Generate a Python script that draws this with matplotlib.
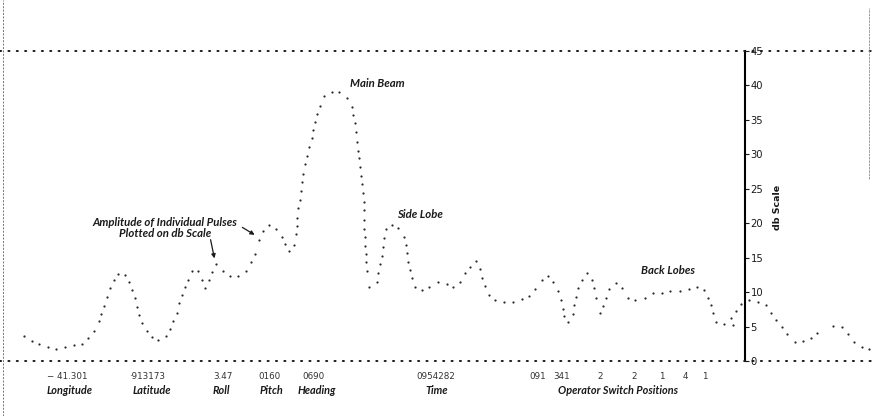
import numpy as np
import matplotlib.pyplot as plt

# trace position (along the record) and pulse amplitude in db
trace_x = [24, 32, 39, 48, 56, 65, 74, 82, 88, 94, 99, 101, 104, 107, 110, 114,
           118, 125, 129, 132, 135, 137, 139, 142, 147, 152, 158, 166, 170, 173,
           177, 179, 182, 185, 188, 192, 198, 202, 205, 209, 212, 216, 223, 230,
           238, 246, 251, 255, 259, 263, 269, 276, 282, 285, 289, 294, 295.5,
           296.5, 297.3, 298, 300, 301, 302, 303, 305, 307, 309, 312, 313, 315,
           317, 320, 324, 332, 339, 347, 352, 353, 355, 356, 357, 358, 359, 360,
           361, 362, 363, 363.5, 364, 364.2, 364.4, 364.6, 365, 365.7, 366, 367,
           369, 377, 378, 380, 382, 383, 384, 386, 392, 398, 404, 406, 407, 408,
           410, 412, 415, 422, 429, 438, 447, 453, 460, 465, 470, 476, 480, 482,
           485, 489, 495, 504, 513, 522, 529, 535, 542, 548, 553, 558, 561, 563,
           564, 568, 573, 574, 576, 578, 582, 587, 592, 594, 596, 600, 603, 606,
           609, 616, 622, 628, 635, 645, 653, 662, 670, 680, 689, 697, 704, 708,
           711, 713, 716, 724, 731, 733, 736, 741, 749, 758, 766, 771, 776, 782,
           787, 795, 803, 811, 817, 833, 842, 848, 854, 862, 869]
trace_db = [3.6, 2.9, 2.4, 2.1, 1.8, 2.1, 2.3, 2.5, 3.4, 4.4, 5.8, 6.8, 8.0, 9.3,
            10.6, 11.8, 12.6, 12.5, 11.4, 10.3, 9.1, 7.8, 6.7, 5.5, 4.4, 3.5, 3.1,
            3.7, 4.7, 5.8, 7.0, 8.4, 9.6, 10.7, 11.8, 13.0, 13.0, 11.8, 10.6, 11.8,
            12.9, 14.1, 13.0, 12.3, 12.3, 13.1, 14.3, 15.6, 17.5, 18.8, 19.8, 19.1,
            18.0, 17.0, 15.9, 16.8, 18.4, 19.6, 20.8, 22.2, 23.4, 24.6, 26.0, 27.2,
            28.6, 29.8, 31.1, 32.3, 33.5, 34.7, 35.9, 37.0, 38.4, 39.1, 39.0, 38.1,
            36.8, 35.7, 34.5, 33.3, 31.8, 30.5, 29.4, 28.2, 26.9, 25.7, 24.4, 23.1,
            21.9, 20.5, 19.2, 18.0, 16.7, 15.5, 14.3, 13.1, 10.7, 11.5, 12.8, 14.1,
            15.2, 16.6, 17.9, 19.1, 19.7, 19.3, 18.0, 16.8, 15.7, 14.4, 13.2, 12.0,
            10.7, 10.3, 10.8, 11.4, 11.2, 10.8, 11.5, 12.7, 13.6, 14.5, 13.3, 12.1,
            10.9, 9.6, 8.8, 8.5, 8.6, 9.0, 9.4, 10.4, 11.7, 12.3, 11.5, 10.1, 8.9,
            7.6, 6.5, 5.6, 6.8, 8.1, 9.3, 10.6, 11.8, 12.7, 11.8, 10.6, 9.2, 6.9,
            8.0, 9.1, 10.4, 11.3, 10.6, 9.2, 8.9, 9.2, 9.8, 9.9, 10.1, 10.2, 10.4,
            10.8, 10.3, 9.2, 8.1, 6.9, 5.7, 5.3, 6.3, 5.2, 7.3, 8.3, 8.9, 8.6, 8.1,
            7.0, 6.0, 5.0, 3.9, 2.8, 2.9, 3.4, 4.1, 5.1, 4.9, 3.9, 2.8, 2.1, 1.7]

db_ticks = [0, 5, 10, 15, 20, 25, 30, 35, 40, 45]

readout_values = ['\u2212 41.301', '\u00b7913173', '3.47', '0160', '0690', '0954282']
readout_names = ['Longitude', 'Latitude', 'Roll', 'Pitch', 'Heading', 'Time']
switch_values = ['091', '341', '2', '2', '1', '4', '1']

# label layout along the trace (same units as trace_x)
value_x = [67, 147, 223, 269, 313, 436]
name_x = [70, 152, 221, 271, 317, 437]
switch_x = [538, 562, 600, 634, 662, 685, 705]

ink = '#1a1a1a'
label_font = dict(family='Lato', weight='bold', style='italic', size=8.2, color=ink)
name_font = dict(family='Lato', weight='bold', style='italic', size=7.8, color=ink)
value_font = dict(family='DejaVu Sans', size=6.3, color='#333333')

fig = plt.figure(figsize=(8.72, 4.16), dpi=100)
ax = fig.add_axes([0, 0, 1, 1])
ax.set_xlim(0, 872)
ax.set_ylim(-7.98, 52.39)
ax.axis('off')

# dotted reference lines at 0 and 45 db
for level in (0, 45):
    ax.axhline(level, color=ink, lw=1.4, ls=(0, (0.6, 3.7)),
               dash_capstyle='round')

# scan border
ax.axvline(3, color='0.45', lw=0.7, ls=(0, (2, 1.5)))
ax.axvline(869, ymin=0.57, ymax=0.98, color='0.55', lw=0.6, ls=(0, (3, 1)))

# the pulses
ax.plot(trace_x, trace_db, 'o', ms=1.6, color='#2a2a2a', mec='none')

# db scale
sec = ax.secondary_yaxis(745 / 872)
sec.spines['right'].set_bounds(0, 45)
sec.spines['right'].set_linewidth(1.5)
sec.set_yticks(db_ticks)
sec.tick_params(axis='y', direction='out', length=3, width=0.8, pad=1,
                labelsize=7.2, colors=ink)
ax.text(777, 22.3, 'db Scale', rotation=90, ha='center', va='center',
        family='DejaVu Sans', weight='bold', size=6.8, color=ink)

# annotations
ax.text(350, 40.3, 'Main Beam', ha='left', va='center', **label_font)
ax.text(397, 21.3, 'Side Lobe', ha='left', va='center', **label_font)
ax.text(641, 13.1, 'Back Lobes', ha='left', va='center', **label_font)
ax.text(165, 19.3, 'Amplitude of Individual Pulses\nPlotted on db Scale',
        ha='center', va='center', linespacing=1.0, **label_font)
arrow = dict(arrowstyle='-|>', color=ink, lw=0.9, mutation_scale=6)
ax.annotate('', xy=(257, 18.1), xytext=(240, 19.6), arrowprops=arrow)
ax.annotate('', xy=(215, 14.5), xytext=(210, 18.0), arrowprops=arrow)

# readouts under the trace
for x, v in zip(value_x, readout_values):
    ax.text(x, -2.18, v, ha='center', va='center', **value_font)
for x, n in zip(name_x, readout_names):
    ax.text(x, -4.35, n, ha='center', va='center', **name_font)
for x, v in zip(switch_x, switch_values):
    ax.text(x, -2.18, v, ha='center', va='center', **value_font)
ax.text(618, -4.35, 'Operator Switch Positions', ha='center', va='center',
        **name_font)

plt.savefig('out.png', dpi=100, facecolor='white')
